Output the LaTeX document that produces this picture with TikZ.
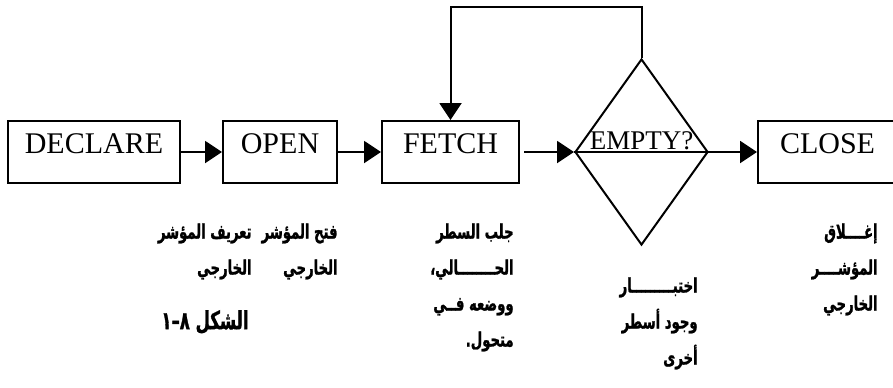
\documentclass[tikz,border=0pt]{standalone}
\usepackage{fontspec}
\setmainfont{Liberation Serif}
\newfontfamily\arabicfont[Script=Arabic, FakeStretch=0.66, FakeBold=1.2]{DejaVu Sans}
\TeXXeTstate=1
\usetikzlibrary{arrows.meta,positioning,shapes.geometric}
\newcommand{\rtl}[1]{\beginR #1\endR}

\begin{document}
\begin{tikzpicture}[
    x=0.5pt, y=-0.5pt,
    box/.style={draw, line width=1pt, inner sep=0pt, text height=16pt, text depth=15pt, font=\fontsize{15}{18}\selectfont},
    decision/.style={draw, diamond, line width=1pt, inner sep=0pt, minimum width=66.5pt, minimum height=93pt},
    arrow/.style={-{Triangle[length=8.5pt, width=11pt]}, line width=1pt},
    note/.style={font=\arabicfont\bfseries\fontsize{10}{18}\selectfont, align=right, inner sep=0pt, anchor=north east}
]
    \useasboundingbox (0,0) rectangle (893,387);
    \clip (0,0) rectangle (893,387);

    % Boxes
    \node[box, minimum width=86pt, anchor=base] (declare) at (94,153) {DECLARE};
    \node[box, minimum width=57pt, anchor=base] (open) at (280,153) {OPEN};
    \node[box, minimum width=68.5pt, anchor=base] (fetch) at (450.5,153) {FETCH};
    \node[decision] (empty) at (641.5,152) {};
    \node[font=\fontsize{13.5}{16}\selectfont, anchor=base, inner sep=0pt] (emptytxt) at (641.5,149) {EMPTY?};
    \node[box, minimum width=69.5pt, anchor=base] (close) at (827.5,153) {CLOSE};
    \draw[line width=1pt] (empty.west) -- (empty.east);

    % Arrows
    \draw[arrow] (declare) -- (open);
    \draw[arrow] (open) -- (fetch);
    \draw[arrow] ([xshift=2pt]fetch.east) -- (empty.west);
    \draw[arrow] (empty.east) -- (close.west);
    \coordinate (loop) at (641.5,7);
    \draw[arrow] (empty.north) -- (loop) -| (fetch.north);

    % Labels
    \node[note] (declarenote) at (252,223) {\rtl{تعريف المؤشر}\\\rtl{الخارجي}};
    \node[note] (opennote) at (338,223) {\rtl{فتح المؤشر}\\\rtl{الخارجي}};
    \node[note] (fetchnote) at (514,223) {\rtl{جلب السطر}\\\rtl{الحــــــــالي،}\\\rtl{ووضعه فــي}\\\rtl{متحول.}};
    \node[note] (emptynote) at (698,277) {\rtl{اختبـــــــــار}\\\rtl{وجود أسطر}\\\rtl{أخرى}};
    \node[note] (closenote) at (878,223) {\rtl{إغــــلاق}\\\rtl{المؤشــــر}\\\rtl{الخارجي}};
    \node[font=\arabicfont\bfseries\fontsize{12.5}{12}\selectfont, inner sep=0pt] (caption) at (205,322) {\rtl{١}–\rtl{٨}\ \rtl{الشكل}};
\end{tikzpicture}
\end{document}
